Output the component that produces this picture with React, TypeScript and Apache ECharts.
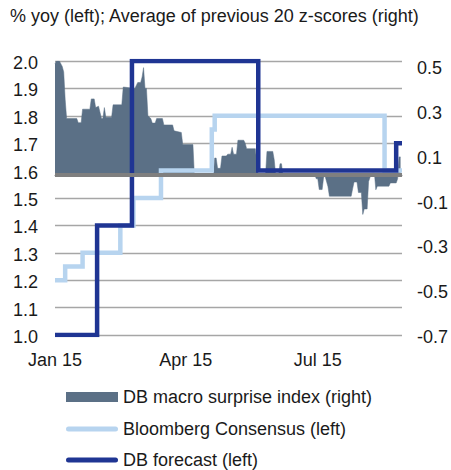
import React, { useEffect, useRef } from "react";
import * as echarts from "echarts";

const TITLE = "% yoy (left); Average of previous 20 z-scores (right)";

const surpriseDates = [
  "2015-01-01", "2015-01-02", "2015-01-04", "2015-01-06", "2015-01-07", "2015-01-08", "2015-01-09",
  "2015-01-16", "2015-01-17", "2015-01-19", "2015-01-20", "2015-01-25", "2015-01-26", "2015-01-28",
  "2015-01-29", "2015-01-31", "2015-02-02", "2015-02-03", "2015-02-04", "2015-02-05", "2015-02-09",
  "2015-02-10", "2015-02-16", "2015-02-17", "2015-02-25", "2015-02-27", "2015-03-01", "2015-03-02",
  "2015-03-03", "2015-03-04", "2015-03-05", "2015-03-06", "2015-03-08", "2015-03-09", "2015-03-11",
  "2015-03-12", "2015-03-16", "2015-03-17", "2015-03-23", "2015-03-24", "2015-03-29", "2015-03-30",
  "2015-04-06", "2015-04-07", "2015-04-20", "2015-04-21", "2015-04-22", "2015-04-23", "2015-04-25",
  "2015-04-26", "2015-04-29", "2015-04-30", "2015-05-02", "2015-05-03", "2015-05-04", "2015-05-06",
  "2015-05-07", "2015-05-11", "2015-05-12", "2015-05-13", "2015-05-19", "2015-05-20", "2015-05-21",
  "2015-05-26", "2015-05-27", "2015-05-31", "2015-06-01", "2015-06-02", "2015-06-04", "2015-06-05",
  "2015-06-06", "2015-06-07", "2015-06-29", "2015-06-30", "2015-07-01", "2015-07-02", "2015-07-04",
  "2015-07-05", "2015-07-06", "2015-07-08", "2015-07-09", "2015-07-24", "2015-07-25", "2015-07-26",
  "2015-07-28", "2015-07-29", "2015-07-31", "2015-08-01", "2015-08-02", "2015-08-04", "2015-08-05",
  "2015-08-07", "2015-08-09", "2015-08-10", "2015-08-11", "2015-08-19", "2015-08-20", "2015-08-24",
  "2015-08-25", "2015-08-26", "2015-08-27",
];
const surpriseValues = [
  0.488, 0.5, 0.5, 0.476, 0.452, 0.332, 0.248,
  0.248, 0.23, 0.23, 0.289, 0.289, 0.334, 0.334,
  0.296, 0.302, 0.248, 0.248, 0.296, 0.254, 0.254,
  0.308, 0.308, 0.386, 0.38, 0.406, 0.406, 0.43,
  0.471, 0.38, 0.38, 0.26, 0.248, 0.228, 0.228,
  0.248, 0.248, 0.22, 0.22, 0.194, 0.187, 0.134,
  0.134, 0, 0, 0.075, 0.075, 0.03, 0.03,
  0.084, 0.084, 0.092, 0.092, 0.122, 0.092, 0.092,
  0.153, 0.153, 0.14, 0.116, 0.116, 0.056, 0,
  0, 0.104, 0.104, 0.068, 0, 0, 0.05,
  0.05, 0, 0, -0.016, -0.016, -0.063, -0.063,
  -0.01, -0.004, -0.05, -0.092, -0.092, -0.06, -0.03,
  -0.03, -0.076, -0.076, -0.172, -0.148, -0.148, -0.028,
  0.008, 0.008, -0.064, -0.048, -0.048, -0.034, -0.034,
  -0.016, 0.08, 0.08,
];

// step series: level i holds from date i to date i+1
const consensusDates = [
  "2015-01-01", "2015-01-08", "2015-01-20", "2015-02-15", "2015-02-24",
  "2015-03-15", "2015-04-19", "2015-04-21", "2015-08-16", "2015-08-28",
];
const consensusLevels = [1.2, 1.25, 1.3, 1.4, 1.5, 1.6, 1.75, 1.8, 1.6];

const forecastDates = ["2015-01-01", "2015-01-30", "2015-02-23", "2015-05-21", "2015-08-24", "2015-08-28"];
const forecastLevels = [1.0, 1.4, 2.0, 1.6, 1.7];

const xLabelDates = ["2015-01-01", "2015-04-01", "2015-07-01"];
const xLabelTexts = ["Jan 15", "Apr 15", "Jul 15"];
const axisStart = "2015-01-01";
const axisEnd = "2015-08-28";

const leftTicks = [1.0, 1.1, 1.2, 1.3, 1.4, 1.5, 1.6, 1.7, 1.8, 1.9, 2.0];
const rightTicks = [-0.7, -0.5, -0.3, -0.1, 0.1, 0.3, 0.5];

const SERIES_NAMES = ["DB macro surprise index (right)", "Bloomberg Consensus (left)", "DB forecast (left)"];

const LINE_ICON = "path://M0,0M52,10M2.5,2.5H49.5A2.5,2.5,0,0,1,49.5,7.5H2.5A2.5,2.5,0,0,1,2.5,2.5Z";

const dayOf = (s: string) => {
  const [y, m, d] = s.split("-").map(Number);
  const [y0, m0, d0] = axisStart.split("-").map(Number);
  return Math.round((Date.UTC(y, m - 1, d) - Date.UTC(y0, m0 - 1, d0)) / 86400000);
};

const stepPoints = (dates: string[], levels: number[]) => {
  const pts: number[][] = [];
  levels.forEach((v, i) => {
    pts.push([dayOf(dates[i]), v]);
    pts.push([dayOf(dates[i + 1]), v]);
  });
  return pts;
};

const FONT = "'Liberation Sans', Arial, Helvetica, sans-serif";
const TEXT = "#1a1a1a";

const legendAt = (name: string, top: number, icon: string) => ({
  orient: "horizontal",
  left: 66,
  top,
  padding: 0,
  itemWidth: 52,
  itemHeight: 10,
  textStyle: { fontSize: 18, color: TEXT, fontFamily: FONT },
  data: [{ name, icon }],
});

// rich styles that nudge the right-hand labels slightly downward (more at the top), as in the original
const rightRich: Record<string, any> = {};
rightTicks.forEach((_, i) => {
  const shift = 2 + (5 * i) / (rightTicks.length - 1);
  rightRich["r" + i] = { fontSize: 18, color: TEXT, fontFamily: FONT, padding: [shift * 2, 0, 0, 0] };
});
const leftRich = { l: { fontSize: 18, color: TEXT, fontFamily: FONT, padding: [4, 0, 0, 0] } };

export default function App() {
  const ref = useRef<HTMLDivElement>(null);
  useEffect(() => {
    if (!ref.current) return;
    const chart = echarts.init(ref.current, null, { renderer: "svg" });
    const labelMap: Record<number, string> = {};
    xLabelDates.forEach((d, i) => (labelMap[dayOf(d)] = xLabelTexts[i]));
    chart.setOption({
      animation: false,
      backgroundColor: "#ffffff",
      textStyle: { fontFamily: FONT },
      title: {
        text: TITLE,
        left: 5,
        top: 2,
        textStyle: { fontSize: 18, fontWeight: "normal", color: TEXT, fontFamily: FONT },
      },
      grid: { left: 55, right: 48, top: 61, bottom: 135, containLabel: false },
      legend: [
        legendAt(SERIES_NAMES[0], 388, "rect"),
        legendAt(SERIES_NAMES[1], 420, LINE_ICON),
        legendAt(SERIES_NAMES[2], 451, LINE_ICON),
      ],
      xAxis: {
        type: "value",
        min: dayOf(axisStart),
        max: dayOf(axisEnd),
        splitLine: { show: false },
        axisTick: { show: false },
        axisLine: { show: true, lineStyle: { color: "#a6a6a6", width: 1.3 } },
        axisLabel: {
          customValues: xLabelDates.map(dayOf),
          formatter: (v: number) => labelMap[v] ?? "",
          fontSize: 18,
          color: TEXT,
          margin: 16,
          fontFamily: FONT,
        },
      },
      yAxis: [
        {
          type: "value",
          min: 1.0,
          max: 2.0,
          interval: 0.1,
          axisLine: { show: false },
          axisTick: { show: false },
          splitLine: { lineStyle: { color: "#a6a6a6", width: 1.3 } },
          axisLabel: {
            customValues: leftTicks,
            formatter: (v: number) => `{l|${v.toFixed(1)}}`,
            rich: leftRich,
            fontSize: 18,
            color: TEXT,
            margin: 17,
            fontFamily: FONT,
          },
        },
        {
          type: "value",
          min: -0.7,
          max: 0.5,
          axisLine: { show: false },
          axisTick: { show: false },
          splitLine: { show: false },
          axisLabel: {
            customValues: rightTicks,
            formatter: (v: number) => {
              let idx = 0;
              rightTicks.forEach((t, i) => {
                if (Math.abs(t - v) < 1e-6) idx = i;
              });
              return `{r${idx}|${v.toFixed(1)}}`;
            },
            rich: rightRich,
            fontSize: 18,
            color: TEXT,
            margin: 15,
            fontFamily: FONT,
          },
        },
      ],
      series: [
        {
          name: SERIES_NAMES[0],
          type: "line",
          yAxisIndex: 1,
          data: surpriseDates.map((d, i) => [dayOf(d), surpriseValues[i]]),
          symbol: "none",
          showSymbol: false,
          itemStyle: { color: "#5b7086" },
          lineStyle: { width: 0.5, color: "#5b7086" },
          areaStyle: { color: "#5b7086", opacity: 1, origin: 0 },
          z: 2,
          markLine: {
            silent: true,
            symbol: "none",
            label: { show: false },
            lineStyle: { color: "#7f7f7f", width: 4, type: "solid" },
            data: [{ yAxis: 0 }],
          },
        },
        {
          name: SERIES_NAMES[1],
          type: "line",
          data: stepPoints(consensusDates, consensusLevels),
          symbol: "none",
          showSymbol: false,
          itemStyle: { color: "#b7d4ef" },
          lineStyle: { width: 4.5, color: "#b7d4ef", join: "miter" },
          z: 3,
        },
        {
          name: SERIES_NAMES[2],
          type: "line",
          data: stepPoints(forecastDates, forecastLevels),
          symbol: "none",
          showSymbol: false,
          itemStyle: { color: "#1f3593" },
          lineStyle: { width: 4.5, color: "#1f3593", join: "miter" },
          z: 4,
        },
      ],
    });
    return () => chart.dispose();
  }, []);
  return (
    <div
      ref={ref}
      style={{ position: "fixed", left: 0, top: 0, width: 451, height: 470, background: "#fff" }}
    />
  );
}
